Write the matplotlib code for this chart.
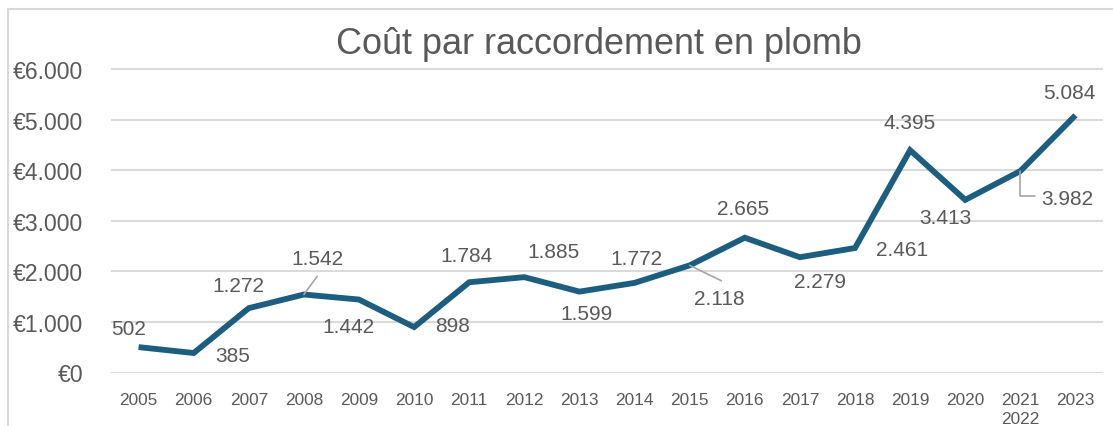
import matplotlib
matplotlib.use("Agg")
import matplotlib.pyplot as plt
from matplotlib.lines import Line2D
from matplotlib.ticker import FuncFormatter

# ---- data ----
categories = ['2005', '2006', '2007', '2008', '2009', '2010', '2011', '2012', '2013',
              '2014', '2015', '2016', '2017', '2018', '2019', '2020', '2021\n2022', '2023']
values = [502, 385, 1272, 1542, 1442, 898, 1784, 1885, 1599, 1772, 2118, 2665,
          2279, 2461, 4395, 3413, 3982, 5084]
y_ticks = [0, 1000, 2000, 3000, 4000, 5000, 6000]
title = 'Coût par raccordement en plomb'

# label placement (pixel offsets from each point: dx right, dy up)
label_offsets = [(-10, 19), (39, -2), (-10, 23), (14, 36), (-11, -27), (38, 2),
                 (-3, 27), (29, 26), (7, -22), (2, 24), (30, -33), (-2, 29),
                 (20, -24), (47, -1), (0, 28), (-20, -18), (47, -27), (-6, 23)]

FONT = 'Liberation Sans'
TXT = '#595959'
LINE = '#1b5e80'
GRID = '#d9d9d9'
LEAD = '#a6a6a6'

plt.rcParams['font.family'] = [FONT, 'DejaVu Sans']

W, H = 1113, 427
fig = plt.figure(figsize=(W / 100, H / 100), dpi=100)

# outer chart border (left and top visible)
fig.add_artist(Line2D([8 / W, 8 / W], [0, 1 - 10 / H], transform=fig.transFigure,
                      color=GRID, lw=1.5))
fig.add_artist(Line2D([8 / W, 1], [1 - 10 / H, 1 - 10 / H], transform=fig.transFigure,
                      color=GRID, lw=1.5))

y0_px = 373.5
px_per = (373.5 - 70) / 6000
ytop = 6100
left, right = 111, 1103
ax = fig.add_axes([left / W, (H - y0_px) / H, (right - left) / W, ytop * px_per / H])

x = list(range(len(categories)))
ax.plot(x, values, color=LINE, lw=4.2, solid_joinstyle='miter', solid_capstyle='butt', zorder=3)

ax.set_xlim(-0.5, len(categories) - 0.5)
ax.set_ylim(0, ytop)
ax.set_yticks(y_ticks)
ax.yaxis.set_major_formatter(FuncFormatter(lambda v, p: '€' + f"{int(v):,}".replace(',', '.')))
ax.set_xticks(x)
ax.set_xticklabels(categories)
for t in ax.get_xticklabels():
    t.set_linespacing(1.3)

ax.grid(axis='y', color=GRID, lw=1.4)
ax.set_axisbelow(True)
for s in ax.spines.values():
    s.set_visible(False)
ax.tick_params(axis='both', length=0)
ax.tick_params(axis='x', labelsize=12.4, colors=TXT, pad=14)
ax.tick_params(axis='y', labelsize=16.5, colors=TXT, pad=20)

for i, (v, (dx, dy)) in enumerate(zip(values, label_offsets)):
    ax.annotate(f"{v:,}".replace(',', '.'), xy=(i, v), xytext=(dx, dy),
                textcoords='offset pixels', ha='center', va='center',
                fontsize=15, color=TXT, zorder=4)

# leader lines
ax.annotate('', xy=(3, values[3]), xytext=(13.4, 18.3), textcoords='offset pixels',
            arrowprops=dict(arrowstyle='-', color=LEAD, lw=1.2, shrinkA=0, shrinkB=0))
ax.annotate('', xy=(10, values[10]), xytext=(31.7, -15.4), textcoords='offset pixels',
            arrowprops=dict(arrowstyle='-', color=LEAD, lw=1.2, shrinkA=0, shrinkB=0))
ax.annotate('', xy=(16, values[16]), xytext=(15, -25.3), textcoords='offset pixels',
            arrowprops=dict(arrowstyle='-', color=LEAD, lw=1.2, shrinkA=0, shrinkB=0,
                            connectionstyle='angle,angleA=0,angleB=90,rad=0'))

fig.text(599 / W, 1 - 45 / H, title, ha='center', va='center', fontsize=25.9, color=TXT)

fig.savefig('out.png', dpi=100)
